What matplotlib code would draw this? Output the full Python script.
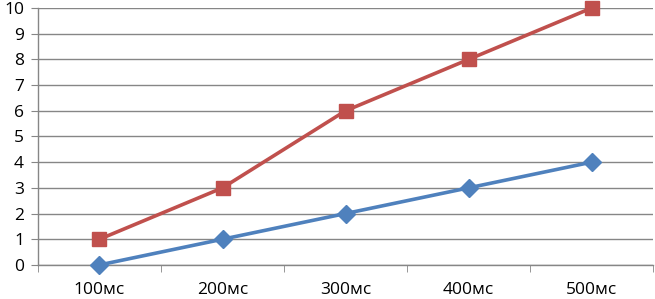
import matplotlib.pyplot as plt
import numpy as np

plt.rcParams['font.family'] = ['Open Sans', 'DejaVu Sans']

categories = ['100мс', '200мс', '300мс', '400мс', '500мс']
blue_values = [0, 1, 2, 3, 4]
red_values = [1, 3, 6, 8, 10]

grid_color = '#868686'

fig = plt.figure(figsize=(6.55, 2.99), dpi=100)
ax = fig.add_axes([0.058, 0.114, 0.939, 0.859])

x = np.arange(len(categories))
ax.plot(x, blue_values, color='#4F81BD', lw=2.6, marker='D', markersize=9, clip_on=False, zorder=3)
ax.plot(x, red_values, color='#C0504D', lw=2.6, marker='s', markersize=9.5, clip_on=False, zorder=4)

ax.set_xlim(-0.5, len(categories) - 0.5)
ax.set_ylim(0, 10)
ax.set_yticks(range(0, 11))
ax.set_xticks(x)
ax.set_xticklabels(categories)
ax.set_xticks(np.arange(-0.5, len(categories)), minor=True)

ax.grid(axis='y', color=grid_color, lw=1)
ax.set_axisbelow(True)
for s in ['top', 'right']:
    ax.spines[s].set_visible(False)
for s in ['left', 'bottom']:
    ax.spines[s].set_color(grid_color)
    ax.spines[s].set_linewidth(1)

ax.tick_params(axis='x', which='major', length=0, pad=12, labelsize=12.5)
ax.tick_params(axis='x', which='minor', length=5, color=grid_color, direction='out')
ax.tick_params(axis='y', length=5, color=grid_color, pad=5, labelsize=12.5)

fig.savefig('out.png', dpi=100)
